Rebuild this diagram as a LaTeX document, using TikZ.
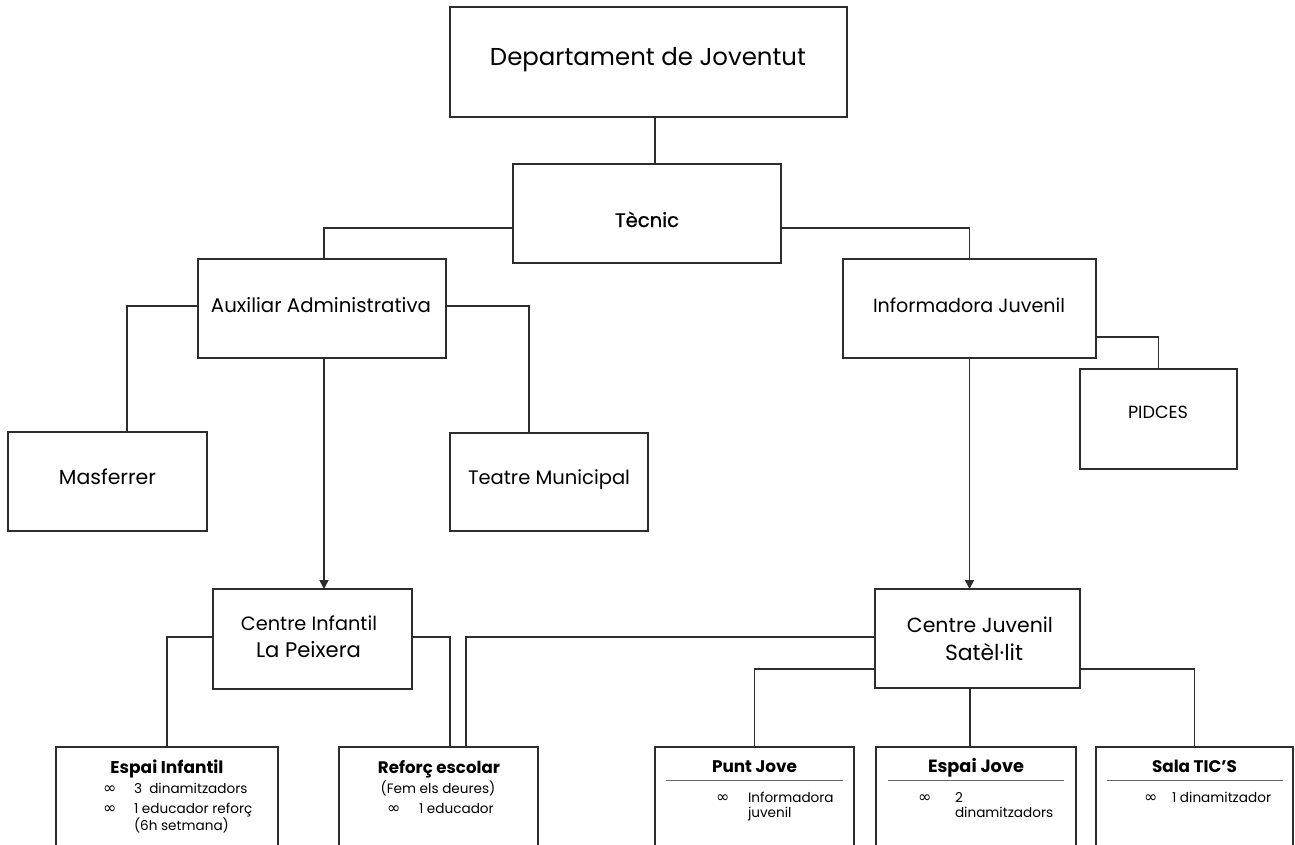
\documentclass[tikz,border=0pt]{standalone}
\usepackage{fontspec}
\setmainfont{Poppins}
\newfontfamily\symf{DejaVu Sans}
\newfontfamily\semib{Poppins}[FakeBold=0.8]
\usetikzlibrary{arrows.meta}
\newcommand{\fw}[2]{\resizebox{#1pt}{!}{#2}}
\newcommand{\bodyf}{\fontsize{13.6}{15}\selectfont}
\newcommand{\infs}{{\symf\fontsize{16}{16}\selectfont ∞}}
\definecolor{lc}{RGB}{45,45,45}
\begin{document}
\begin{tikzpicture}[x=1pt,y=-1pt,
  box/.style={draw=lc,line width=1.5pt,inner sep=0pt,outer sep=0pt,fill=white},
  conn/.style={draw=lc,line width=1.5pt},
  arr/.style={-{Triangle[length=9pt,width=9pt]}},
  lbl/.style={inner sep=0pt,outer sep=0pt,anchor=base,text=black},
  lw/.style={inner sep=0pt,outer sep=0pt,anchor=base west,text=black},
  rule/.style={draw=black!60,line width=0.9pt}]
\useasboundingbox (0,0) rectangle (1295,844);
\clip (0,0) rectangle (1295,844);
\fill[white] (0,0) rectangle (1295,844);

% boxes
\node[box,minimum width=397pt,minimum height=110pt] (dep) at (648.5,62) {};
\node[box,minimum width=268pt,minimum height=99pt] (tec) at (647,213.5) {};
\node[box,minimum width=248pt,minimum height=99pt] (aux) at (322,308.5) {};
\node[box,minimum width=253pt,minimum height=99pt] (inf) at (969.5,308.5) {};
\node[box,minimum width=199pt,minimum height=99pt] (masf) at (107.5,481.5) {};
\node[box,minimum width=198pt,minimum height=98pt] (teat) at (549,482) {};
\node[box,minimum width=157pt,minimum height=100pt] (pid) at (1158.5,419) {};
\node[box,minimum width=199pt,minimum height=100pt] (ci) at (312.5,639) {};
\node[box,minimum width=205pt,minimum height=99pt] (cj) at (977.5,638.5) {};
\node[box,minimum width=222pt,minimum height=123pt] (ei) at (167,808.5) {};
\node[box,minimum width=199pt,minimum height=123pt] (ref) at (438.5,808.5) {};
\node[box,minimum width=199pt,minimum height=123pt] (pj) at (754.5,808.5) {};
\node[box,minimum width=200pt,minimum height=123pt] (ej) at (976,808.5) {};
\node[box,minimum width=197pt,minimum height=123pt] (sala) at (1194.5,808.5) {};

% connectors
\draw[conn] (655,0 |- dep.south) -- (655,0 |- tec.north);
\draw[conn] (tec.west |- 0,228) -- (324,228) -- (324,0 |- aux.north);
\draw[conn] (tec.east |- 0,228) -- (969.5,228) -- (inf.north);
\draw[conn] (aux.west |- 0,306) -- (127,306) -- (127,0 |- masf.north);
\draw[conn] (aux.east |- 0,306) -- (529,306) -- (529,0 |- teat.north);
\draw[conn,arr] (324,0 |- aux.south) -- (324,0 |- ci.north);
\draw[conn,arr] (inf.south) -- (inf.south |- cj.north);
\draw[conn] (inf.east |- 0,337) -- (pid.north |- 0,337) -- (pid.north);
\draw[conn] (ci.west |- 0,637) -- (167,637) -- (ei.north);
\draw[conn] (ci.east |- 0,637) -- (450,637) -- (450,0 |- ref.north);
\draw[conn] (cj.west |- 0,637) -- (466,637) -- (466,0 |- ref.north);
\draw[conn] (cj.west |- 0,669) -- (pj.north |- 0,669) -- (pj.north);
\draw[conn] (970,0 |- cj.south) -- (970,0 |- ej.north);
\draw[conn] (cj.east |- 0,669) -- (sala.north |- 0,669) -- (sala.north);

% main labels
\node[lbl] (depT) at (648,65) {\fw{316}{Departament de Joventut}};
\node[lbl] (tecT) at (647,227) {\fw{64}{\semib Tècnic}};
\node[lbl] (auxT) at (321,312) {\fw{220}{Auxiliar Administrativa}};
\node[lbl] (infT) at (969,312) {\fw{192}{Informadora Juvenil}};
\node[lbl] (masfT) at (107.5,484) {\fw{97}{Masferrer}};
\node[lbl] (teatT) at (549,484) {\fw{162}{Teatre Municipal}};
\node[lbl] (pidT) at (1158,418) {\fw{60}{PIDCES}};
\node[lbl] (ciT1) at (309,630) {\fw{136}{Centre Infantil}};
\node[lbl] (ciT2) at (308.5,657) {\fw{105}{La Peixera}};
\node[lbl] (cjT1) at (980,632) {\fw{146}{Centre Juvenil}};
\node[lbl] (cjT2) at (984,660) {\fw{78}{Satèl·lit}};

% Espai Infantil
\node[lbl] (eiT) at (167,773) {\fw{113}{\bfseries Espai Infantil}};
\node[lw] (eiB1) at (103,793) {\infs};
\node[lw] (eiL1) at (134,793) {\bodyf 3\ \ dinamitzadors};
\node[lw] (eiB2) at (103,813) {\infs};
\node[lw] (eiL2) at (134,813) {\bodyf 1 educador reforç};
\node[lw] (eiL3) at (134,830) {\bodyf (6h setmana)};

% Reforc escolar
\node[lbl] (refT) at (439,773) {\fw{122}{\bfseries Reforç escolar}};
\node[lbl] (refL1) at (438,793) {\bodyf (Fem els deures)};
\node[lw] (refB) at (387,813) {\infs};
\node[lw] (refL2) at (419,813) {\bodyf 1 educador};

% Punt Jove
\node[lbl] (pjT) at (754.5,772) {\fw{85}{\bfseries Punt Jove}};
\draw[rule] (666,780) -- (843,780);
\node[lw] (pjB) at (716,802) {\infs};
\node[lw] (pjL1) at (748,802) {\bodyf Informadora};
\node[lw] (pjL2) at (748,817) {\bodyf juvenil};

% Espai Jove
\node[lbl] (ejT) at (976,772) {\fw{96}{\bfseries Espai Jove}};
\draw[rule] (888,780) -- (1064,780);
\node[lw] (ejB) at (918,802) {\infs};
\node[lw] (ejL1) at (955,802) {\bodyf 2};
\node[lw] (ejL2) at (955,817) {\bodyf dinamitzadors};

% Sala TIC'S
\node[lbl] (salaT) at (1194.5,772) {\fw{85}{\bfseries Sala TIC'S}};
\draw[rule] (1107,780) -- (1283,780);
\node[lw] (salaB) at (1144,802) {\infs};
\node[lw] (salaL) at (1172,802) {\bodyf 1 dinamitzador};
\end{tikzpicture}
\end{document}
